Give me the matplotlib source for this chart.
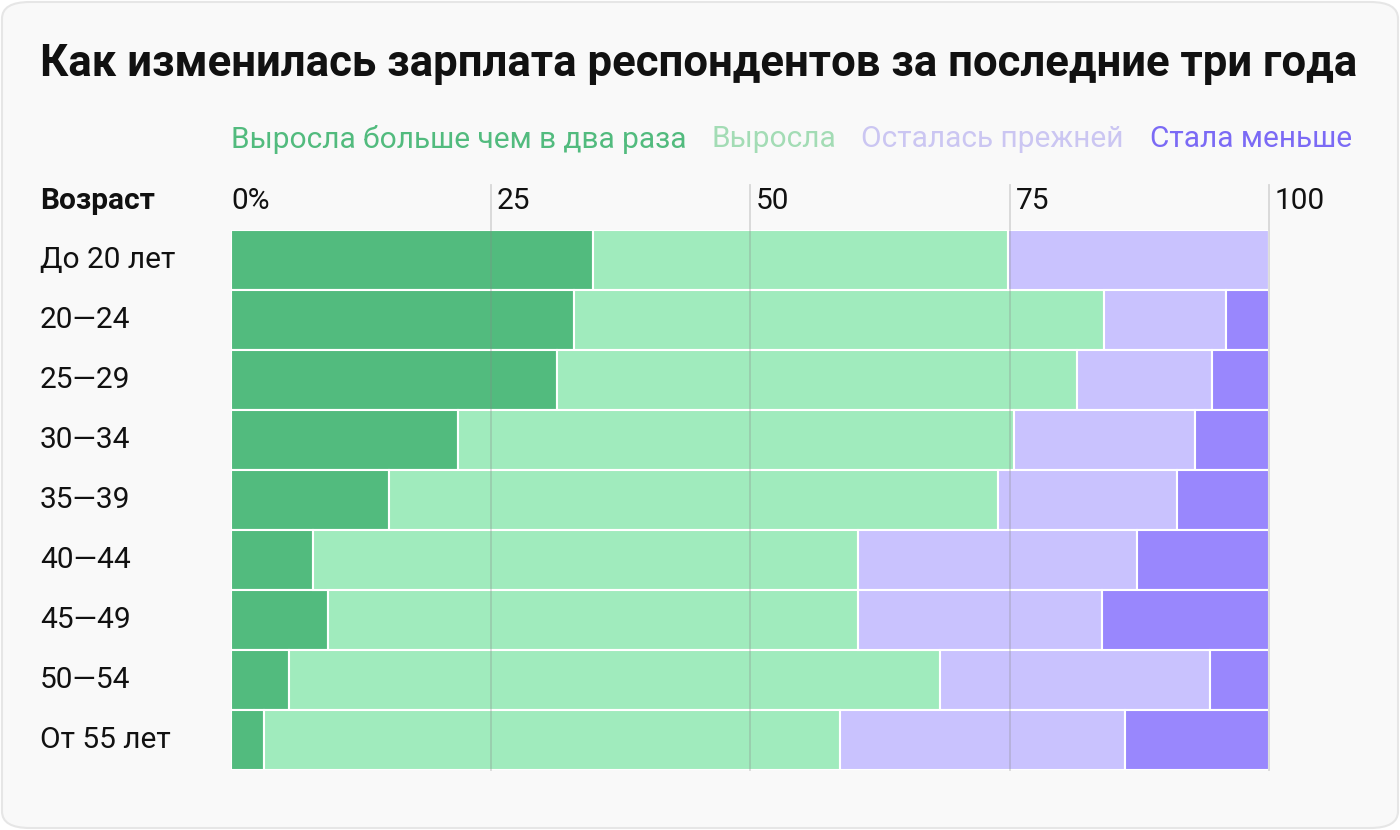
import matplotlib.pyplot as plt
from matplotlib.patches import FancyBboxPatch

plt.rcParams['font.family'] = ['Roboto', 'DejaVu Sans']

# data: share of respondents, %
ages = ['До 20 лет', '20—24', '25—29', '30—34', '35—39', '40—44', '45—49', '50—54', 'От 55 лет']
grew_2x = [34.9, 33.0, 31.4, 21.9, 15.2, 7.9, 9.3, 5.6, 3.2]
grew = [40.0, 51.1, 50.1, 53.5, 58.7, 52.5, 51.1, 62.7, 55.5]
same = [25.1, 11.8, 13.0, 17.5, 17.2, 26.9, 23.5, 26.0, 27.4]
less = [0.0, 4.1, 5.5, 7.1, 8.9, 12.7, 16.1, 5.7, 13.9]

series = [grew_2x, grew, same, less]
names = ['Выросла больше чем в два раза', 'Выросла', 'Осталась прежней', 'Стала меньше']
colors = ['#52bb7e', '#a0ebbd', '#c9c2fe', '#9987fd']
legend_colors = ['#52bb7e', '#a3dcb5', '#cbc6f2', '#7b6af5']
ticks = [0, 25, 50, 75, 100]
tick_labels = ['0%', '25', '50', '75', '100']

W, H = 1400, 830
FS = 21.5


def px(x, y):
    return x / W, 1 - y / H


fig = plt.figure(figsize=(14, 8.3), dpi=100)
fig.patch.set_facecolor('white')

# rounded card background
bg = fig.add_axes([0, 0, 1, 1], zorder=-10)
bg.axis('off')
bg.set_xlim(0, 1)
bg.set_ylim(0, 1)
bg.add_patch(FancyBboxPatch((2 / W, 2 / H), 1 - 4 / W, 1 - 4 / H,
                            boxstyle='round,pad=0,rounding_size=0.02',
                            facecolor='#f9f9f9', edgecolor='#e6e6e6', linewidth=1.5))

# axes spans bars area
x0, x1, y0, y1 = 231, 1269, 230, 770
ax = fig.add_axes([x0 / W, 1 - y1 / H, (x1 - x0) / W, (y1 - y0) / H])
ax.set_facecolor('none')

left = [0] * len(ages)
for vals, c in zip(series, colors):
    ax.barh(range(len(ages)), vals, left=left, height=1.0, color=c,
            edgecolor='white', linewidth=1.5, zorder=2)
    left = [l + v for l, v in zip(left, vals)]

ax.set_xlim(0, 100)
ax.set_ylim(len(ages) - 0.5, -0.5)
ax.axis('off')

top = (y1 - 185) / (y1 - y0)
for t in ticks[1:]:
    ax.axvline(t, ymin=0, ymax=top, color='#888888', alpha=0.3, linewidth=1.3,
               zorder=3, clip_on=False)

for t, lab in zip(ticks, tick_labels):
    x_pix = x0 + (x1 - x0) * t / 100
    fig.text(*px(x_pix + (0 if t == 0 else 6), 201), lab, fontsize=FS,
             ha='left', va='center', color='#111111')

for i, a in enumerate(ages):
    fig.text(*px(40, 260 + 60 * i), a, fontsize=FS, ha='left', va='center',
             color='#111111')
fig.text(*px(40, 201), 'Возраст', fontsize=FS, fontweight='bold',
         ha='left', va='center', color='#111111')

fig.text(*px(40, 64), 'Как изменилась зарплата респондентов за последние три года',
         fontsize=31.5, fontweight='bold', ha='left', va='center', color='#111111')

# legend as coloured words in one row
legend_x = [231, 712, 861, 1150]
for n, c, lx in zip(names, legend_colors, legend_x):
    fig.text(*px(lx, 139), n, fontsize=FS, ha='left', va='center', color=c)

fig.savefig('out.png', dpi=100, facecolor=fig.get_facecolor())
